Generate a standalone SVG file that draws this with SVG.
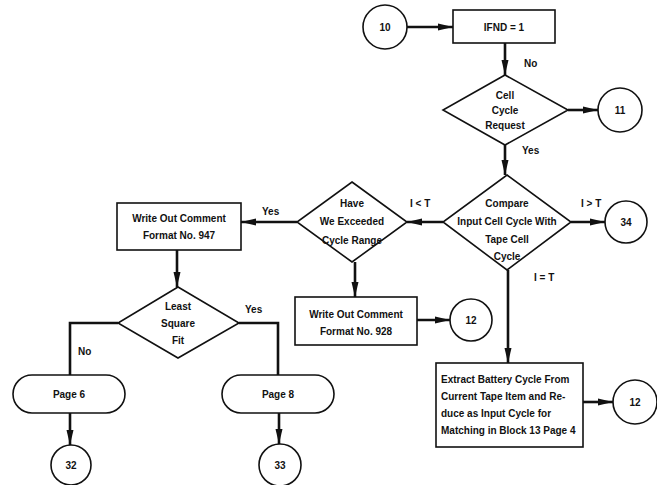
<svg xmlns="http://www.w3.org/2000/svg" width="657" height="485" viewBox="0 0 657 485">
<defs>
<style>
.n{fill:#fff;stroke:#111;stroke-width:1.6}
.c{fill:none;stroke:#111;stroke-width:2.6}
text{font-family:"Liberation Sans",Arial,sans-serif;font-weight:bold;font-size:10px;fill:#111}
.m{text-anchor:middle}
</style>
<marker id="ah" markerUnits="userSpaceOnUse" markerWidth="15" markerHeight="8" refX="15" refY="4" orient="auto">
<path d="M0,0.5 L15,4 L0,7.5 z" fill="#111"/>
</marker>
</defs>
<rect width="657" height="485" fill="#fff"/>
<g id="connectors">
<line class="c" x1="407" y1="27" x2="453" y2="27" marker-end="url(#ah)"/>
<line class="c" x1="505" y1="43" x2="505" y2="75" marker-end="url(#ah)"/>
<line class="c" x1="568" y1="110" x2="598" y2="110" marker-end="url(#ah)"/>
<line class="c" x1="505" y1="145" x2="505" y2="175" marker-end="url(#ah)"/>
<line class="c" x1="571" y1="222" x2="605" y2="222" marker-end="url(#ah)"/>
<line class="c" x1="443" y1="222" x2="407" y2="222" marker-end="url(#ah)"/>
<line class="c" x1="297" y1="222" x2="241" y2="222" marker-end="url(#ah)"/>
<line class="c" x1="355" y1="262" x2="355" y2="297" marker-end="url(#ah)"/>
<line class="c" x1="417" y1="320" x2="450" y2="320" marker-end="url(#ah)"/>
<line class="c" x1="508" y1="270" x2="508" y2="363" marker-end="url(#ah)"/>
<line class="c" x1="583" y1="402" x2="613" y2="402" marker-end="url(#ah)"/>
<line class="c" x1="177" y1="250" x2="177" y2="287" marker-end="url(#ah)"/>
<polyline class="c" points="118,323 70,323 70,375"/>
<polyline class="c" points="239,323 278,323 278,375"/>
<line class="c" x1="70" y1="413" x2="70" y2="445" marker-end="url(#ah)"/>
<line class="c" x1="279" y1="413" x2="279" y2="444" marker-end="url(#ah)"/>
</g>
<g id="labels">
<text x="524" y="67">No</text>
<text x="522" y="154">Yes</text>
<text x="410" y="207">I &lt; T</text>
<text x="581" y="207">I &gt; T</text>
<text x="534" y="281">I = T</text>
<text x="262" y="215">Yes</text>
<text x="245" y="313">Yes</text>
<text x="78" y="355">No</text>
</g>
<g id="c10"><circle class="n" cx="385" cy="27" r="22"/><text class="m" x="385" y="31">10</text></g>
<g id="ifnd"><rect class="n" x="453" y="10" width="102" height="33"/><text class="m" x="504" y="31">IFND = 1</text></g>
<g id="cellcycle"><polygon class="n" points="505,75 568,110 505,145 443,110"/><text class="m" x="505" y="99">Cell</text><text class="m" x="505" y="114">Cycle</text><text class="m" x="505" y="129">Request</text></g>
<g id="c11"><circle class="n" cx="620" cy="110" r="22"/><text class="m" x="620" y="114">11</text></g>
<g id="compare"><polygon class="n" points="507,175 571,222 507,270 443,222"/><text class="m" x="507" y="207">Compare</text><text class="m" x="507" y="225">Input Cell Cycle With</text><text class="m" x="507" y="243">Tape Cell</text><text class="m" x="507" y="260">Cycle</text></g>
<g id="c34"><circle class="n" cx="626" cy="222" r="21"/><text class="m" x="626" y="226">34</text></g>
<g id="have"><polygon class="n" points="352,182 407,222 352,262 297,222"/><text class="m" x="352" y="207">Have</text><text class="m" x="352" y="225">We Exceeded</text><text class="m" x="352" y="244">Cycle Range</text></g>
<g id="w947"><rect class="n" x="117" y="203" width="124" height="47"/><text class="m" x="179" y="222">Write Out Comment</text><text class="m" x="179" y="239">Format No. 947</text></g>
<g id="lsf"><polygon class="n" points="178,287 239,323 178,358 118,323"/><text class="m" x="178" y="310">Least</text><text class="m" x="178" y="327">Square</text><text class="m" x="178" y="344">Fit</text></g>
<g id="page6"><rect class="n" x="13" y="375" width="112" height="38" rx="19"/><text class="m" x="69" y="398">Page 6</text></g>
<g id="page8"><rect class="n" x="222" y="375" width="112" height="38" rx="19"/><text class="m" x="278" y="398">Page 8</text></g>
<g id="c32"><circle class="n" cx="71" cy="465" r="20"/><text class="m" x="71" y="469">32</text></g>
<g id="c33"><circle class="n" cx="280" cy="465" r="21"/><text class="m" x="280" y="469">33</text></g>
<g id="w928"><rect class="n" x="295" y="297" width="122" height="48"/><text class="m" x="356" y="318">Write Out Comment</text><text class="m" x="356" y="335">Format No. 928</text></g>
<g id="c12a"><circle class="n" cx="471" cy="320" r="21"/><text class="m" x="471" y="324">12</text></g>
<g id="extract"><rect class="n" x="436" y="363" width="147" height="84"/><text x="441" y="383">Extract Battery Cycle From</text><text x="441" y="400">Current Tape Item and Re-</text><text x="441" y="417">duce as Input Cycle for</text><text x="441" y="434">Matching in Block 13 Page 4</text></g>
<g id="c12b"><circle class="n" cx="635" cy="402" r="22"/><text class="m" x="635" y="406">12</text></g>
</svg>
